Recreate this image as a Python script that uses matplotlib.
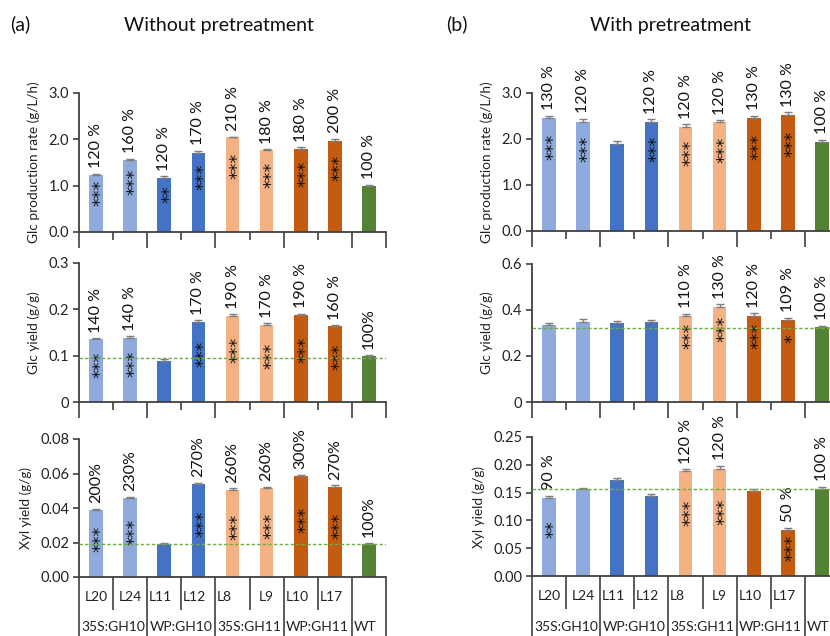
import numpy as np
import matplotlib
matplotlib.use("Agg")
import matplotlib.pyplot as plt
from matplotlib.ticker import FixedLocator, FormatStrFormatter, FuncFormatter

plt.rcParams['font.family'] = ['Lato', 'DejaVu Sans']

# ---------------- data ----------------
lines = ["L20", "L24", "L11", "L12", "L8", "L9", "L10", "L17", "WT"]
groups = ["35S:GH10", "WP:GH10", "35S:GH11", "WP:GH11", "WT"]
group_spans = [(0, 1), (2, 3), (4, 5), (6, 7), (8, 8)]
colors = ["#8FAADC", "#8FAADC", "#4472C4", "#4472C4", "#F4B183", "#F4B183",
          "#C55A11", "#C55A11", "#548235"]

# Without pretreatment
a_rate = [1.22, 1.55, 1.17, 1.71, 2.04, 1.76, 1.80, 1.97, 1.00]
a_rate_err = [0.04, 0.03, 0.03, 0.04, 0.02, 0.03, 0.03, 0.04, 0.02]
a_rate_pct = ["120 %", "160 %", "120 %", "170 %", "210 %", "180 %", "180 %", "200 %", "100 %"]
a_rate_sig = ["***", "***", "**", "***", "***", "***", "***", "***", ""]

a_glc = [0.135, 0.138, 0.089, 0.173, 0.186, 0.167, 0.188, 0.163, 0.100]
a_glc_err = [0.003, 0.004, 0.004, 0.003, 0.003, 0.003, 0.003, 0.003, 0.002]
a_glc_pct = ["140 %", "140 %", "", "170 %", "190 %", "170 %", "190 %", "160 %", "100%"]
a_glc_sig = ["***", "***", "", "***", "***", "***", "***", "***", ""]
a_glc_ref = 0.096

a_xyl = [0.0388, 0.0456, 0.0192, 0.0538, 0.0507, 0.0515, 0.0583, 0.0524, 0.0194]
a_xyl_err = [0.0009, 0.0009, 0.0005, 0.0009, 0.0008, 0.0008, 0.0008, 0.0008, 0.0005]
a_xyl_pct = ["200%", "230%", "", "270%", "260%", "260%", "300%", "270%", "100%"]
a_xyl_sig = ["***", "***", "", "***", "***", "***", "***", "***", ""]
a_xyl_ref = 0.019

# With pretreatment
b_rate = [2.45, 2.38, 1.90, 2.38, 2.27, 2.36, 2.45, 2.53, 1.94]
b_rate_err = [0.05, 0.06, 0.05, 0.05, 0.05, 0.05, 0.05, 0.05, 0.04]
b_rate_pct = ["130 %", "120 %", "", "120 %", "120 %", "120 %", "130 %", "130 %", "100 %"]
b_rate_sig = ["***", "***", "", "***", "***", "***", "***", "***", ""]

b_glc = [0.333, 0.350, 0.343, 0.350, 0.374, 0.415, 0.376, 0.357, 0.325]
b_glc_err = [0.010, 0.010, 0.008, 0.008, 0.009, 0.009, 0.009, 0.009, 0.007]
b_glc_pct = ["", "", "", "", "110 %", "130 %", "120 %", "109 %", "100 %"]
b_glc_sig = ["", "", "", "", "***", "***", "***", "*", ""]
b_glc_ref = 0.321

b_xyl = [0.140, 0.156, 0.172, 0.144, 0.188, 0.193, 0.153, 0.083, 0.157]
b_xyl_err = [0.004, 0.003, 0.004, 0.004, 0.004, 0.005, 0.003, 0.004, 0.003]
b_xyl_pct = ["90 %", "", "", "", "120 %", "120 %", "", "50 %", "100 %"]
b_xyl_sig = ["**", "", "", "", "***", "***", "", "***", ""]
b_xyl_ref = 0.156

ylabels = ["Glc production rate (g/L/h)", "Glc yield (g/g)", "Xyl yield (g/g)"]

# ---------------- figure ----------------
W, H = 830, 636
fig = plt.figure(figsize=(W / 100, H / 100), dpi=100)

def add_ax(x0, x1, ytop, ybot):
    return fig.add_axes([x0 / W, 1 - ybot / H, (x1 - x0) / W, (ybot - ytop) / H])

spine_c = "#404040"
x = np.arange(len(lines))
major_b = [-0.5, 1.5, 3.5, 5.5, 7.5, 8.5]
minor_b = [0.5, 2.5, 4.5, 6.5]
px2pt = 0.72


def panel(ax, vals, errs, pct, sig, ylim, yticks, fmt, ylabel, star_frac,
          ref=None, bottom=False):
    ax.bar(x, vals, width=0.4, color=colors, edgecolor="none", zorder=2)
    ax.errorbar(x, vals, yerr=[np.zeros(len(vals)), errs], fmt="none",
                ecolor="#7F7F7F", elinewidth=1.0, capsize=3, capthick=1.0, zorder=3)
    if ref is not None:
        ax.axhline(ref, color="#70AD47", lw=1.0, ls=(0, (2.5, 1.5)), zorder=4)
    ax.set_xlim(-0.5, 8.5)
    ax.set_ylim(*ylim)
    ax.yaxis.set_major_locator(FixedLocator(yticks))
    ax.yaxis.set_major_formatter(fmt)
    ax.tick_params(axis="y", direction="out", length=4, width=1.2, color=spine_c,
                   labelsize=10.5, pad=3, labelcolor="#222222")
    ax.set_ylabel(ylabel, fontsize=9.8, labelpad=6, color="#222222")
    for s in ["top", "right"]:
        ax.spines[s].set_visible(False)
    for s in ["left", "bottom"]:
        ax.spines[s].set_color(spine_c)
        ax.spines[s].set_linewidth(1.3)
    ax.set_xticks(major_b)
    ax.set_xticks(minor_b, minor=True)
    ax.set_xticklabels([])
    ax.set_xticklabels([], minor=True)
    if bottom:
        ax.tick_params(axis="x", which="major", length=62 * px2pt, width=1.2, color=spine_c)
        ax.tick_params(axis="x", which="minor", length=33 * px2pt, width=1.2, color=spine_c)
    else:
        ax.tick_params(axis="x", which="major", length=16 * px2pt, width=1.2, color=spine_c)
        ax.tick_params(axis="x", which="minor", length=8 * px2pt, width=1.2, color=spine_c)
    for i, v in enumerate(vals):
        if pct[i]:
            ax.annotate(pct[i], (x[i], v + errs[i]), xytext=(0, 4),
                        textcoords="offset points", rotation=90, ha="center",
                        va="bottom", fontsize=11.5, color="#111111")
        if sig[i]:
            ax.text(x[i] + 0.14, v * star_frac, sig[i], rotation=90, ha="center",
                    va="center", fontsize=12.5, family="DejaVu Sans", color="#111111")
    if bottom:
        ha_list = ["center", "center", "left", "left", "left", "center", "left", "left", "left"]
        for i, lab in enumerate(lines[:-1]):
            if ha_list[i] == "left":
                ax.text(i - 0.45, -0.145, lab, transform=ax.get_xaxis_transform(),
                        ha="left", va="center", fontsize=10, color="#222222")
            else:
                ax.text(i, -0.145, lab, transform=ax.get_xaxis_transform(),
                        ha="center", va="center", fontsize=10, color="#222222")
        for g, (s0, s1) in zip(groups[:-1], group_spans[:-1]):
            ax.text((s0 + s1) / 2, -0.365, g, transform=ax.get_xaxis_transform(),
                    ha="center", va="center", fontsize=10, color="#222222")
        s0 = group_spans[-1][0]
        ax.text(s0 - 0.43, -0.365, groups[-1], transform=ax.get_xaxis_transform(),
                ha="left", va="center", fontsize=10, color="#222222")


f1 = FormatStrFormatter("%.1f")
f2 = FormatStrFormatter("%.2f")
f0 = FuncFormatter(lambda v, p: "0" if v == 0 else f"{v:.1f}")

axA1 = add_ax(79, 386, 93, 232)
axA2 = add_ax(79, 386, 263, 402)
axA3 = add_ax(79, 386, 439, 577)
axB1 = add_ax(532, 839, 93, 231)
axB2 = add_ax(532, 839, 264, 402)
axB3 = add_ax(532, 839, 437, 576)

panel(axA1, a_rate, a_rate_err, a_rate_pct, a_rate_sig, (0, 3.0), [0, 1, 2, 3], f1,
      ylabels[0], 0.7)
panel(axA2, a_glc, a_glc_err, a_glc_pct, a_glc_sig, (0, 0.3), [0, 0.1, 0.2, 0.3], f0,
      ylabels[1], 0.6, ref=a_glc_ref)
panel(axA3, a_xyl, a_xyl_err, a_xyl_pct, a_xyl_sig, (0, 0.08), [0, 0.02, 0.04, 0.06, 0.08], f2,
      ylabels[2], 0.57, ref=a_xyl_ref, bottom=True)
panel(axB1, b_rate, b_rate_err, b_rate_pct, b_rate_sig, (0, 3.0), [0, 1, 2, 3], f1,
      ylabels[0], 0.75)
panel(axB2, b_glc, b_glc_err, b_glc_pct, b_glc_sig, (0, 0.6), [0, 0.2, 0.4, 0.6], f0,
      ylabels[1], 0.77, ref=b_glc_ref)
panel(axB3, b_xyl, b_xyl_err, b_xyl_pct, b_xyl_sig, (0, 0.25), [0, 0.05, 0.10, 0.15, 0.20, 0.25], f2,
      ylabels[2], 0.6, ref=b_xyl_ref, bottom=True)

fig.text(10 / W, 1 - 24 / H, "(a)", fontsize=14, ha="left", va="center", color="#111111")
fig.text(219 / W, 1 - 25 / H, "Without pretreatment", fontsize=14, ha="center", va="center", color="#111111")
fig.text(446 / W, 1 - 24 / H, "(b)", fontsize=14, ha="left", va="center", color="#111111")
fig.text(670 / W, 1 - 25 / H, "With pretreatment", fontsize=14, ha="center", va="center", color="#111111")

fig.savefig("out.png", dpi=100)
